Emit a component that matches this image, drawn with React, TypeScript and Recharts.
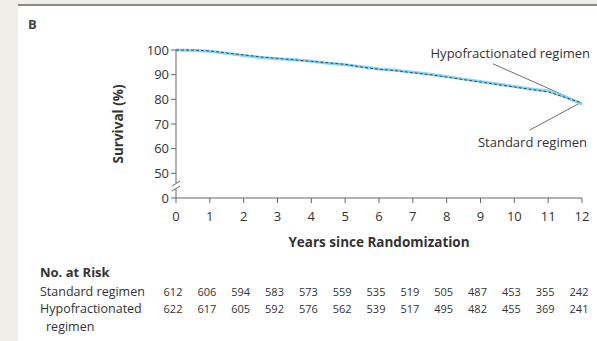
import React from 'react';
import { LineChart, Line, XAxis, YAxis, ReferenceLine } from 'recharts';

const years = [0, 0.5, 1, 1.5, 2, 2.5, 3, 3.5, 4, 4.5, 5, 5.5, 6, 6.5, 7, 7.5, 8, 8.5, 9, 9.5, 10, 10.5, 11, 11.5, 12];
const standardSurvival = [100, 100, 99.6, 98.8, 98.0, 97.2, 96.6, 96.0, 95.4, 94.8, 94.2, 93.0, 92.2, 91.6, 90.8, 90.0, 89.0, 88.0, 87.0, 86.0, 85.0, 84.0, 83.0, 80.8, 78.5];
const hypoSurvival = [100, 99.8, 99.5, 98.7, 97.8, 97.0, 96.5, 96.0, 95.4, 94.6, 94.0, 93.2, 92.3, 91.8, 91.0, 90.2, 89.3, 88.2, 87.2, 86.2, 85.2, 84.2, 83.4, 81.0, 78.2];

const xTicks = [0, 1, 2, 3, 4, 5, 6, 7, 8, 9, 10, 11, 12];
const yTicks = [40, 50, 60, 70, 80, 90, 100];

const riskStandard = [612, 606, 594, 583, 573, 559, 535, 519, 505, 487, 453, 355, 242];
const riskHypo = [622, 617, 605, 592, 576, 562, 539, 517, 495, 482, 455, 369, 241];

const data = years.map((t, i) => ({ t, std: standardSurvival[i], hypo: hypoSurvival[i] }));

const W = 597;
const H = 341;
const PLOT_LEFT = 176;
const PLOT_RIGHT = 582;
const FONT = '"Open Sans", sans-serif';
const TXT = '#333333';
const AX = '#666666';

const xPos = (v: number) => PLOT_LEFT + (v / 12) * (PLOT_RIGHT - PLOT_LEFT);

export default function App() {
  return (
    <div style={{ position: 'absolute', left: 0, top: 0, width: W, height: H, background: '#efeee8', fontFamily: FONT, overflow: 'hidden' }}>
      <div style={{ position: 'absolute', left: 18, top: 4, width: W - 18, height: 2, background: '#8c8c84' }} />
      <div style={{ position: 'absolute', left: 18, top: 6, width: W - 18, height: H - 6, background: '#ffffff' }} />
      <div style={{ position: 'absolute', left: 28, top: 15, fontSize: 13, fontWeight: 700, color: '#444' }}>B</div>
      <div style={{ position: 'absolute', left: 0, top: 0 }}>
        <LineChart width={W} height={H} data={data} margin={{ top: 50, right: W - PLOT_RIGHT, left: 0, bottom: 0 }}>
          <XAxis
            dataKey="t"
            type="number"
            domain={[0, 12]}
            ticks={xTicks}
            interval={0}
            height={143}
            stroke={AX}
            tickSize={5}
            tickMargin={9}
            tick={{ fontSize: 13, fill: TXT, fontFamily: FONT }}
          />
          <YAxis
            type="number"
            domain={[40, 100]}
            ticks={yTicks}
            interval={0}
            width={PLOT_LEFT}
            stroke={AX}
            tickSize={5}
            tickMargin={2}
            tickFormatter={(v: number) => (v === 40 ? '0' : String(v))}
            tick={{ fontSize: 13, fill: TXT, fontFamily: FONT }}
          />
          <ReferenceLine segment={[{ x: 9.37, y: 94.4 }, { x: 11.9, y: 79.0 }]} stroke="#7a6a6a" strokeWidth={1} ifOverflow="visible" />
          <ReferenceLine segment={[{ x: 11.9, y: 78.2 }, { x: 10.45, y: 67.5 }]} stroke="#7a6a6a" strokeWidth={1} ifOverflow="visible" />
          <Line type="linear" dataKey="hypo" stroke="#85d6f2" strokeWidth={3} dot={false} isAnimationActive={false} />
          <Line type="linear" dataKey="std" stroke="#2c4a66" strokeWidth={1} strokeDasharray="3 2" dot={false} isAnimationActive={false} />
        </LineChart>
      </div>
      <svg style={{ position: 'absolute', left: 0, top: 0 }} width={W} height={H}>
        <rect x={172} y={183} width={8} height={6} fill="#ffffff" />
        <path d="M172,186 L180,181 M172,191 L180,186" stroke={AX} strokeWidth={1} fill="none" />
      </svg>
      <div style={{ position: 'absolute', left: 118, top: 124, transform: 'translate(-50%, -50%) rotate(-90deg)', fontSize: 13.5, fontWeight: 700, color: TXT, whiteSpace: 'nowrap' }}>Survival (%)</div>
      <div style={{ position: 'absolute', left: 379, top: 242, transform: 'translate(-50%, -50%)', fontSize: 13.5, fontWeight: 700, color: TXT, whiteSpace: 'nowrap' }}>Years since Randomization</div>
      <div style={{ position: 'absolute', right: 7, top: 53, transform: 'translateY(-50%)', fontSize: 13, color: TXT, whiteSpace: 'nowrap' }}>Hypofractionated regimen</div>
      <div style={{ position: 'absolute', right: 10, top: 142, transform: 'translateY(-50%)', fontSize: 13, color: TXT, whiteSpace: 'nowrap' }}>Standard regimen</div>
      <div style={{ position: 'absolute', left: 40, top: 272, transform: 'translateY(-50%)', fontSize: 13, fontWeight: 700, color: TXT, whiteSpace: 'nowrap' }}>No. at Risk</div>
      <div style={{ position: 'absolute', left: 40, top: 291, transform: 'translateY(-50%)', fontSize: 12.5, color: TXT, whiteSpace: 'nowrap' }}>Standard regimen</div>
      <div style={{ position: 'absolute', left: 40, top: 308, transform: 'translateY(-50%)', fontSize: 12.5, color: TXT, whiteSpace: 'nowrap' }}>Hypofractionated</div>
      <div style={{ position: 'absolute', left: 46, top: 326, transform: 'translateY(-50%)', fontSize: 12.5, color: TXT, whiteSpace: 'nowrap' }}>regimen</div>
      {riskStandard.map((n, i) => (
        <div key={'s' + i} style={{ position: 'absolute', left: xPos(xTicks[i]) - 3, top: 291, transform: 'translate(-50%, -50%)', fontSize: 11, color: TXT }}>{n}</div>
      ))}
      {riskHypo.map((n, i) => (
        <div key={'h' + i} style={{ position: 'absolute', left: xPos(xTicks[i]) - 3, top: 308, transform: 'translate(-50%, -50%)', fontSize: 11, color: TXT }}>{n}</div>
      ))}
    </div>
  );
}
